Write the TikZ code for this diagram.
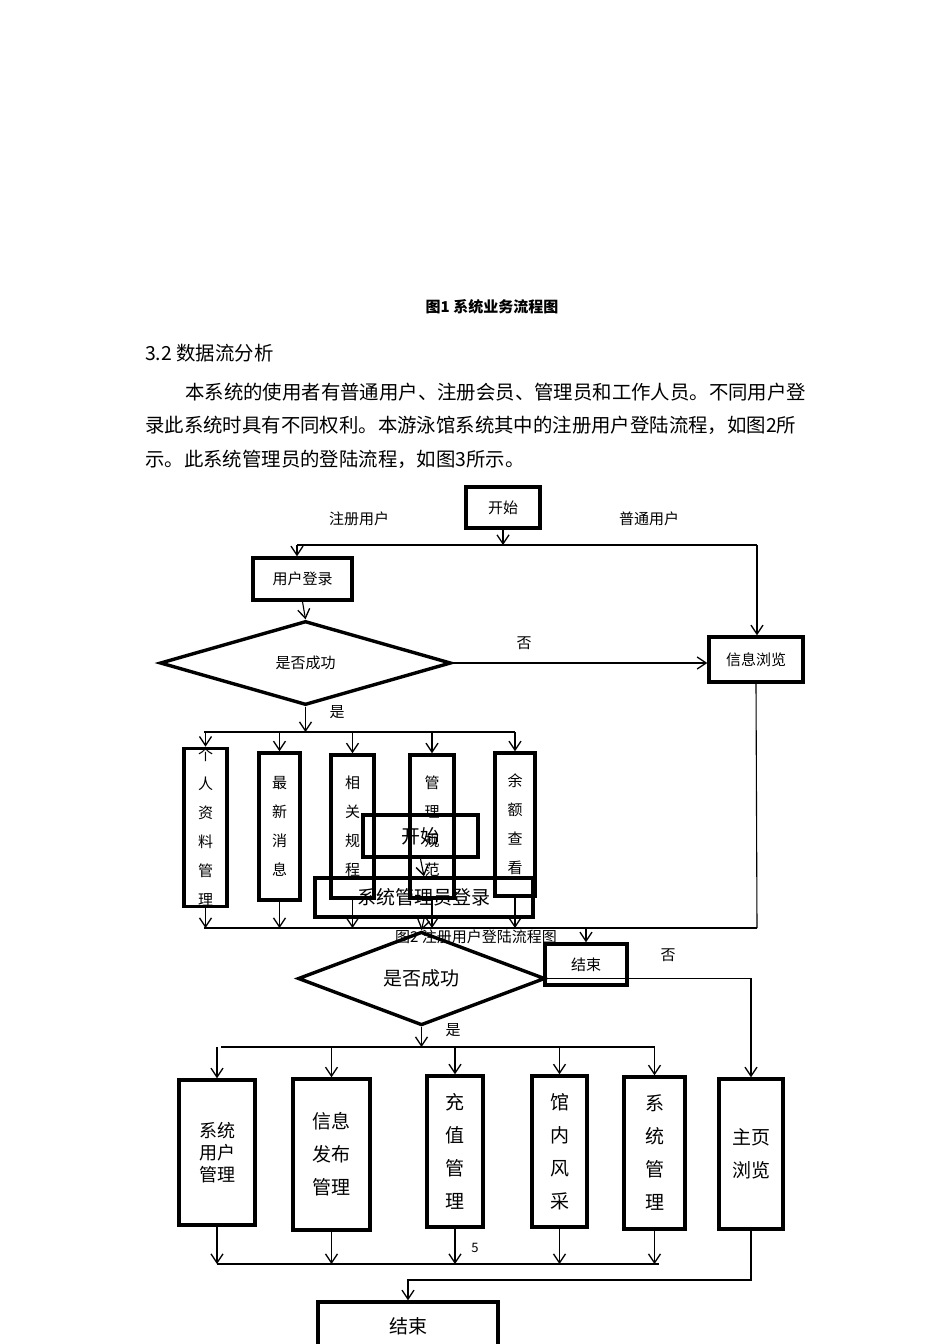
\documentclass[tikz,border=0pt]{standalone}
\usepackage{fontspec}
\setmainfont{Noto Sans CJK SC}
\usetikzlibrary{arrows.meta,shapes.geometric}

\tikzset{
  box/.style={draw,line width=3.4pt,inner sep=0pt,align=center,font=\fontsize{15}{29}\selectfont},
  bigbox/.style={box,font=\fontsize{19}{33}\selectfont},
  link/.style={line width=1.1pt},
  arr/.style={link,-{Straight Barb[length=9pt,width=12pt,line width=1.3pt]}},
  lbl/.style={inner sep=0pt,font=\fontsize{15}{15}\selectfont},
  body/.style={inner sep=0pt,anchor=west,font=\fontsize{19.4}{19.4}\selectfont}
}

\begin{document}
\begin{tikzpicture}[x=1pt,y=-1pt]
    \useasboundingbox (0,0) rectangle (950,1344);
    % page text
    \node[lbl,font=\bfseries\fontsize{15}{15}\selectfont] (cap1) at (492,307) {图1\ 系统业务流程图};
    \node[body] (sec) at (145,353) {3.2\ 数据流分析};
    \node[body] (p1) at (185,392) {本系统的使用者有普通用户、注册会员、管理员和工作人员。不同用户登};
    \node[body] (p2) at (145,425) {录此系统时具有不同权利。本游泳馆系统其中的注册用户登陆流程，如图2所};
    \node[body] (p3) at (145,459) {示。此系统管理员的登陆流程，如图3所示。};

    % first chart
    \node[box,minimum width=74pt,minimum height=41pt] (start1) at (503,507.5) {开始};
    \node[lbl] (reg) at (359,519) {注册用户};
    \node[lbl] (usr) at (649,519) {普通用户};
    \node[box,minimum width=99pt,minimum height=42pt] (login1) at (302.5,579) {用户登录};
    \node[box,minimum width=94pt,minimum height=45pt] (info1) at (756,659.5) {信息浏览};
    \node[box,diamond,minimum width=291pt,minimum height=84pt] (d1) at (305.5,663) {是否成功};
    \node[lbl] (no1) at (524,643) {否};
    \node[lbl] (yes1) at (337,712) {是};
    \node[box,minimum width=43pt,minimum height=145pt] (b11) at (205.5,827.5) {个\\人\\资\\料\\管\\理};
    \node[box,minimum width=41pt,minimum height=147pt] (b12) at (279.5,826.5) {最\\新\\消\\息};
    \node[box,minimum width=43pt,minimum height=143pt] (b13) at (352.5,826.5) {相\\关\\规\\程};
    \node[box,minimum width=44pt,minimum height=143pt] (b14) at (432,826.5) {管\\理\\规\\范};
    \node[box,minimum width=40pt,minimum height=143pt] (b15) at (515,824.5) {余\\额\\查\\看};
    \node[lbl] (cap2) at (476,937) {图2\ 注册用户登陆流程图};

    \coordinate (ja) at (297,545);
    \coordinate (jb) at (757,545);
    \coordinate (bus1) at (204,732);
    \coordinate (bus1e) at (515,732);
    \coordinate (bot1) at (204,928);
    \coordinate (bot1e) at (757,928);
    \draw[arr] (start1.south) -- (start1.south |- ja);
    \draw[link] (ja) -- (jb);
    \draw[arr] (ja) -- (ja |- login1.north);
    \draw[arr] (jb) -- (jb |- info1.north);
    \draw[arr] (login1.south) -- (d1.north);
    \draw[arr] (d1.east) -- (d1.east -| info1.west);
    \draw[arr] (d1.south) -- (d1.south |- bus1);
    \draw[link] (bus1) -- (bus1e);
    \foreach \b in {b11,b12,b13,b14,b15} {
        \draw[arr] (\b.north |- bus1) -- (\b.north);
        \draw[arr] (\b.south) -- (\b.south |- bot1);
    }
    \draw[link] (bot1) -- (bot1e);
    \draw[link] (info1.south) -- (bot1e);

    % second chart, laid over the first
    \node[bigbox,minimum width=115pt,minimum height=42pt] (start2) at (420.5,836) {开始};
    \node[bigbox,minimum width=218pt,minimum height=39pt] (admin2) at (424,897.5) {系统管理员登录};
    \node[box,minimum width=82pt,minimum height=41pt] (end1) at (586,964.5) {结束};
    \node[bigbox,diamond,minimum width=247pt,minimum height=77pt] (d2) at (421.5,978.5) {是否成功};
    \node[lbl] (no2) at (668,955) {否};
    \node[lbl] (yes2) at (453,1030) {是};
    \draw[arr] (end1.north |- bot1) -- (end1.north);

    \node[bigbox,font=\fontsize{18}{22}\selectfont,minimum width=76pt,minimum height=145pt] (b21) at (217,1152.5) {系统\\用户\\管理};
    \node[bigbox,minimum width=77pt,minimum height=151pt] (b22) at (331.5,1154.5) {信息\\发布\\管理};
    \node[bigbox,minimum width=56pt,minimum height=151pt] (b23) at (455,1151.5) {充\\值\\管\\理};
    \node[bigbox,minimum width=55pt,minimum height=151pt] (b24) at (559.5,1151.5) {馆\\内\\风\\采};
    \node[bigbox,minimum width=61pt,minimum height=152pt] (b25) at (654.5,1153) {系\\统\\管\\理};
    \node[bigbox,minimum width=64pt,minimum height=150pt] (b26) at (751,1154) {主页\\浏览};
    \node[lbl,font=\fontsize{13}{13}\selectfont] (pg) at (475,1248) {5};
    \node[bigbox,minimum width=180pt,minimum height=48pt] (end2) at (408,1326) {结束};

    \coordinate (bus2) at (221,1047);
    \coordinate (bus2e) at (655,1047);
    \coordinate (bot2) at (217,1264);
    \coordinate (bot2e) at (659,1264);
    \coordinate (j3) at (end2.north |- 0,1280);
    \draw[arr] (start2.south) -- (admin2.north);
    \draw[arr] (admin2.south) -- (d2.north);
    \draw[arr] (d2.east) -| (b26.north);
    \draw[arr] (d2.south) -- (d2.south |- bus2);
    \draw[link] (bus2) -- (bus2e);
    \draw[link] (bot2) -- (bot2e);
    \foreach \b in {b21,b22,b23,b24,b25} {
        \draw[arr] (\b.north |- bus2) -- (\b.north);
        \draw[arr] (\b.south) -- (\b.south |- bot2);
    }
    \draw[arr] (b26.south) |- (j3) -- (end2.north);
\end{tikzpicture}
\end{document}
